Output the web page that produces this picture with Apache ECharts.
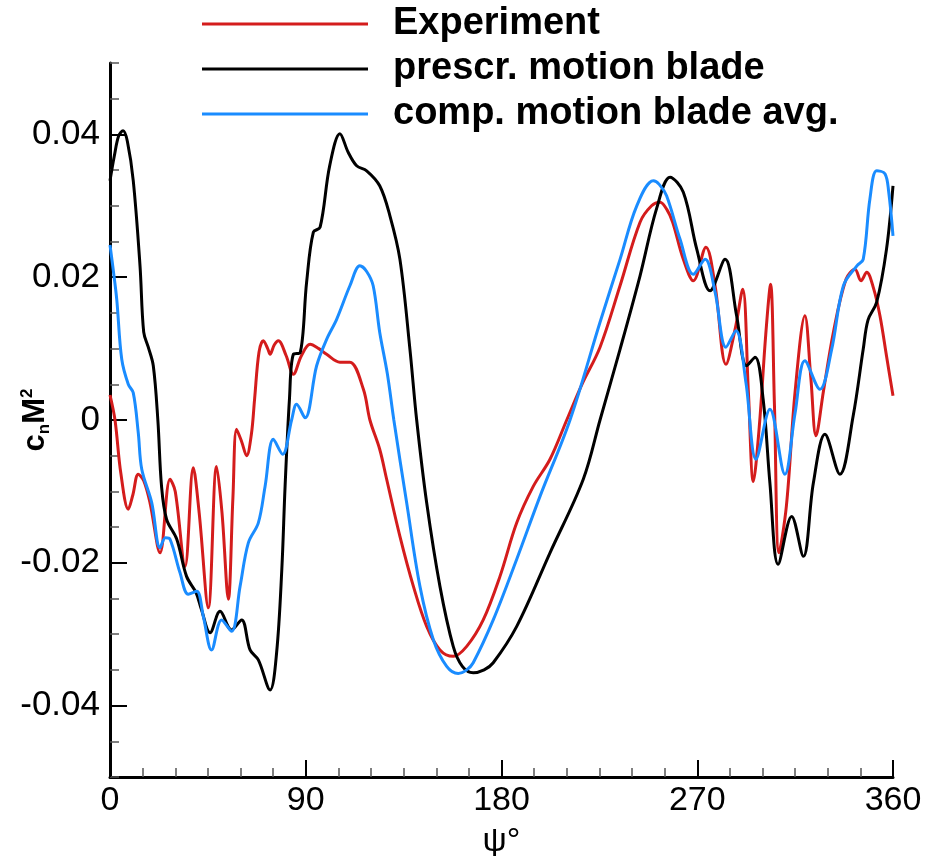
<!DOCTYPE html>
<html>
<head>
<meta charset="utf-8">
<script src="https://cdn.jsdelivr.net/npm/echarts@6/dist/echarts.min.js"></script>
<style>
html,body{margin:0;padding:0;background:#fff;}
#chart{width:931px;height:856px;}
</style>
</head>
<body>
<div id="chart"></div>
<script>
// ---- data ----
const seriesNames = ['Experiment', 'prescr. motion blade', 'comp. motion blade avg.'];

const expPsi = [0, 2.3, 5, 8.4, 10.5, 13, 15.5, 18.4, 23, 27.6, 30, 34.5, 38.3, 41, 45.2, 49, 51.5, 54.4, 56.5, 58.2, 60.5, 62.8, 65, 66.5, 68.5, 70.5, 72.5, 73.6, 75.5, 77.4, 81, 84.3, 88, 92, 96, 99.6, 105.7, 110.3, 116.5, 119.5, 124, 127.2, 133.3, 139.5, 145.6, 151.7, 157.8, 164, 171.6, 179.3, 187, 194.6, 202.3, 210, 217, 225.3, 234.5, 243.7, 249, 252.9, 256, 258.7, 263.6, 268.2, 274, 278.2, 283.2, 287.4, 290.9, 293.5, 295.8, 298.5, 301.5, 303.7, 305.5, 307.6, 311, 315, 319.5, 322.2, 324.6, 328, 332.6, 338.4, 342.5, 345.3, 347.9, 351, 354, 357, 360];
const expCn = [0.0035, 0.0, -0.0075, -0.0125, -0.0105, -0.0076, -0.0085, -0.0116, -0.0186, -0.0083, -0.0100, -0.0205, -0.0067, -0.0130, -0.0263, -0.0065, -0.0130, -0.0251, -0.0110, -0.0013, -0.0030, -0.0050, -0.0020, 0.0030, 0.0095, 0.0111, 0.0100, 0.0092, 0.0105, 0.0111, 0.0090, 0.0064, 0.0090, 0.0106, 0.0100, 0.0092, 0.0081, 0.0081, 0.0043, 0.0, -0.0041, -0.0083, -0.0163, -0.0233, -0.0289, -0.0322, -0.0331, -0.0317, -0.0280, -0.0219, -0.0144, -0.0093, -0.0055, 0.0, 0.0050, 0.0102, 0.0188, 0.0277, 0.0300, 0.0305, 0.0295, 0.0277, 0.0225, 0.0195, 0.0242, 0.0188, 0.0078, 0.0127, 0.0183, 0.0040, -0.0086, -0.0010, 0.0120, 0.0190, 0.0020, -0.0186, -0.0120, 0.0040, 0.0146, 0.0060, -0.0022, 0.0040, 0.0123, 0.0197, 0.0211, 0.0195, 0.0207, 0.0185, 0.0146, 0.0090, 0.0034];

const prePsi = [0, 2, 4, 6, 8, 10.7, 13.8, 15.5, 17.6, 19.9, 22, 23.7, 26, 30.7, 35.2, 39.6, 42, 46, 50.6, 55.9, 60.5, 64.4, 68.2, 73.6, 76.6, 79, 80.5, 82.5, 84.3, 87.4, 90.4, 93.5, 96.6, 101, 105.7, 109.5, 113.4, 118, 124, 128.7, 133.3, 137.9, 141, 145.6, 151.7, 157.8, 162, 167, 172, 176.2, 187, 202.3, 217.6, 225.3, 234.5, 243.7, 251.3, 257.5, 263.6, 269.8, 275.9, 282.8, 288.1, 292.7, 296.6, 300.3, 303.4, 307.2, 313.4, 318.8, 323.4, 328.7, 335.6, 341.7, 346.3, 348.5, 352.5, 357, 360];
const preCn = [0.0335, 0.0370, 0.0398, 0.0405, 0.0390, 0.0335, 0.0216, 0.0123, 0.0102, 0.0076, 0.0, -0.0093, -0.0139, -0.0167, -0.0219, -0.0242, -0.0265, -0.0298, -0.0268, -0.0294, -0.0280, -0.0322, -0.0336, -0.0378, -0.0326, -0.0209, -0.0093, 0.0029, 0.0092, 0.0094, 0.0193, 0.0263, 0.0270, 0.0356, 0.0401, 0.0375, 0.0356, 0.0349, 0.0328, 0.0286, 0.0225, 0.0099, 0.0, -0.0116, -0.0233, -0.0317, -0.0345, -0.0354, -0.0350, -0.0340, -0.0289, -0.0186, -0.0083, 0.0, 0.0099, 0.0202, 0.0296, 0.0340, 0.0319, 0.0239, 0.0181, 0.0225, 0.0146, 0.0076, 0.0088, 0.0029, -0.0088, -0.0202, -0.0135, -0.0191, -0.0088, -0.0020, -0.0076, 0.0006, 0.0099, 0.0140, 0.0165, 0.0239, 0.0328];

const compPsi = [0, 1.5, 3.1, 5.4, 8.4, 10.7, 13, 14.6, 19.2, 23, 25.5, 27.6, 32.2, 36, 39.9, 42.9, 46.7, 51.3, 55.9, 59.8, 63.6, 68.2, 71.3, 75.1, 79.4, 83.5, 85.8, 89.7, 95, 99.6, 104.2, 110.3, 114.9, 118, 121, 124, 127.5, 130.5, 136.4, 142.5, 148.7, 154.8, 160.1, 164, 167, 176.2, 187, 197.7, 211.5, 225.3, 234.5, 242.2, 249.8, 252.5, 255.9, 262.1, 268.2, 273.6, 278.2, 283.2, 287.8, 292.4, 297, 303.4, 310.3, 315, 319.5, 326.4, 331.8, 337.2, 343.4, 346.3, 349.4, 352.5, 356.3, 358, 360];
const compCn = [0.0245, 0.0210, 0.0169, 0.0085, 0.0050, 0.0038, -0.0018, -0.0069, -0.0116, -0.0179, -0.0165, -0.0167, -0.0214, -0.0244, -0.0240, -0.0275, -0.0322, -0.0280, -0.0296, -0.0233, -0.0172, -0.0144, -0.0093, -0.0027, -0.0048, 0.0, 0.0022, 0.0003, 0.0076, 0.0113, 0.0141, 0.0188, 0.0216, 0.0208, 0.0188, 0.0123, 0.0065, 0.0, -0.0116, -0.0233, -0.0308, -0.0345, -0.0355, -0.0350, -0.0340, -0.0280, -0.0195, -0.0107, 0.0, 0.0137, 0.0225, 0.0300, 0.0335, 0.0330, 0.0314, 0.0253, 0.0204, 0.0225, 0.0179, 0.0102, 0.0125, 0.0052, -0.0055, 0.0015, -0.0076, 0.0010, 0.0083, 0.0043, 0.0099, 0.0188, 0.0216, 0.0225, 0.0310, 0.0349, 0.0345, 0.0320, 0.0258];

const xTickLabels = [0, 90, 180, 270, 360];
const yTickLabels = [-0.04, -0.02, 0, 0.02, 0.04];

// ---- build ----
const zip = (xs, ys) => xs.map((x, i) => [x, ys[i]]);
const colors = ['#d41c1c', '#000000', '#1a8cff'];
const FONT = 'Liberation Sans, Arial, Helvetica, sans-serif';

const chart = echarts.init(document.getElementById('chart'), null, {renderer: 'canvas'});

function isMajorY(v) {
  return yTickLabels.some(t => Math.abs(t - v) < 1e-9);
}
function fmtY(v) {
  if (Math.abs(v) < 1e-9) return '0';
  return v.toFixed(2);
}

const option = {
  animation: false,
  backgroundColor: '#ffffff',
  grid: {left: 110, right: 38, top: 63, bottom: 79, containLabel: false, outerBoundsMode: 'none'},
  legend: {
    orient: 'vertical',
    left: 197,
    top: 0,
    icon: 'rect',
    itemWidth: 166,
    itemHeight: 3,
    itemGap: 7,
    selectedMode: false,
    textStyle: {
      fontFamily: FONT, fontWeight: 'bold', fontSize: 38, color: '#000',
      lineHeight: 38, padding: [0, 0, 0, 20]
    },
    data: seriesNames
  },
  xAxis: {
    type: 'value', min: 0, max: 360, interval: 90,
    name: 'ψ°', nameLocation: 'middle', nameGap: 48, nameMoveOverlap: false,
    nameTextStyle: {fontFamily: FONT, fontSize: 34, color: '#000'},
    axisLine: {show: true, onZero: false, lineStyle: {color: '#000', width: 3}},
    axisTick: {show: true, inside: true, length: 17, lineStyle: {color: '#000', width: 2}},
    minorTick: {show: true, splitNumber: 6, length: 9, lineStyle: {color: '#555', width: 1.5}},
    splitLine: {show: false}, minorSplitLine: {show: false},
    axisLabel: {
      fontFamily: FONT, fontSize: 34, color: '#000', margin: 7,
      formatter: v => String(Math.round(v))
    }
  },
  yAxis: [{
    type: 'value', min: -0.05, max: 0.05, interval: 0.005, position: 'left',
    name: '{c|c}{s|n}{m|M}{p|2}', nameLocation: 'middle', nameRotate: 90, nameGap: 55,
    nameMoveOverlap: false,
    nameTextStyle: {
      fontFamily: FONT, color: '#000',
      rich: {
        c: {fontFamily: FONT, fontSize: 31, fontWeight: 'bold', lineHeight: 40, verticalAlign: 'middle'},
        s: {fontFamily: FONT, fontSize: 17, fontWeight: 'bold', lineHeight: 40, verticalAlign: 'bottom', padding: [0, 0, 2, 0]},
        m: {fontFamily: FONT, fontSize: 31, fontWeight: 'bold', lineHeight: 40, verticalAlign: 'middle'},
        p: {fontFamily: FONT, fontSize: 17, fontWeight: 'bold', lineHeight: 40, verticalAlign: 'top', padding: [4, 0, 0, 0]}
      }
    },
    axisLine: {show: true, onZero: false, lineStyle: {color: '#000', width: 3}},
    axisTick: {show: true, inside: true, length: 9, lineStyle: {color: '#555', width: 1.5}},
    splitLine: {show: false},
    axisLabel: {
      fontFamily: FONT, fontSize: 35, color: '#000', margin: 10,
      formatter: v => isMajorY(v) ? fmtY(v) : ''
    }
  }, {
    type: 'value', min: -0.05, max: 0.05, position: 'left', offset: 0,
    axisLine: {show: false},
    axisTick: {show: true, inside: true, length: 17, customValues: yTickLabels, lineStyle: {color: '#000', width: 2}},
    axisLabel: {show: false},
    splitLine: {show: false}
  }],
  series: [
    {name: seriesNames[0], type: 'line', data: zip(expPsi, expCn)},
    {name: seriesNames[1], type: 'line', data: zip(prePsi, preCn)},
    {name: seriesNames[2], type: 'line', data: zip(compPsi, compCn)}
  ].map((s, i) => Object.assign(s, {
    yAxisIndex: 0, showSymbol: false, symbol: 'none', smooth: 0.35,
    color: colors[i], lineStyle: {color: colors[i], width: 3}
  }))
};
chart.setOption(option);
</script>
</body>
</html>
